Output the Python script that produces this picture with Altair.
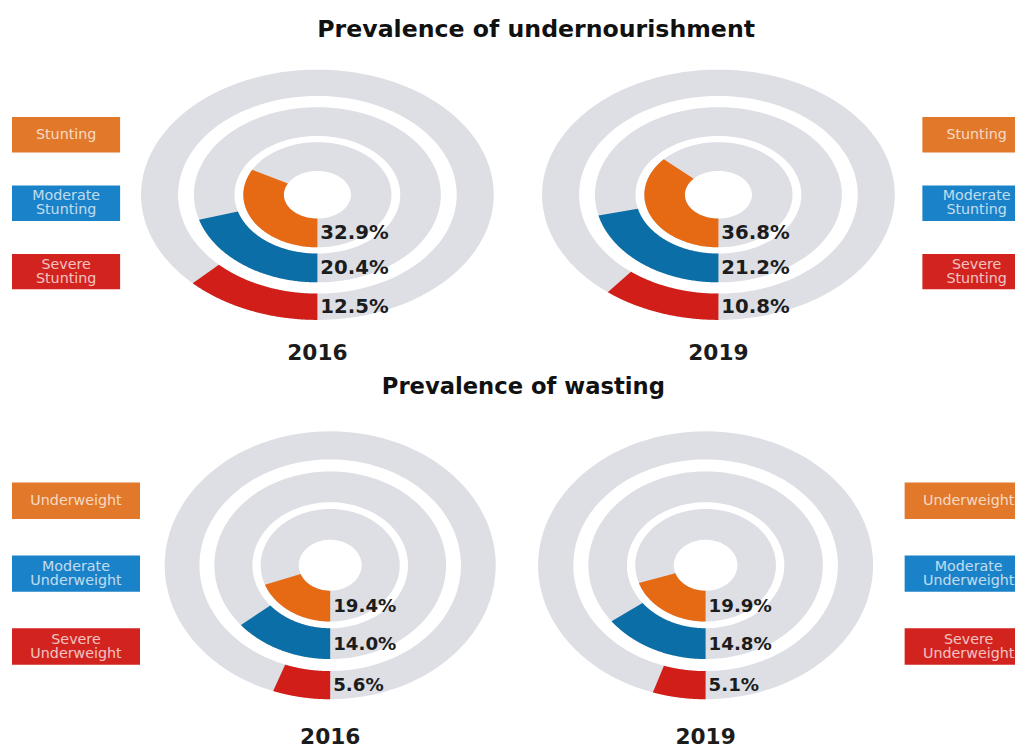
import altair as alt
import pandas as pd

# ---------------- data ----------------
section_titles = ["Prevalence of undernourishment", "Prevalence of wasting"]
years = ["2016", "2019"]
stunting_labels = ["Stunting", "Moderate Stunting", "Severe Stunting"]
wasting_labels = ["Underweight", "Moderate Underweight", "Severe Underweight"]
stunting_2016 = [32.9, 20.4, 12.5]
stunting_2019 = [36.8, 21.2, 10.8]
wasting_2016 = [19.4, 14.0, 5.6]
wasting_2019 = [19.9, 14.8, 5.1]

# ---------------- style ----------------
ARC_COLORS = ["#e66914", "#0b6ea6", "#d21e19"]
BOX_COLORS = ["#e1782a", "#1a82c8", "#d2231e"]
GREY = "#dddfe5"
R_IN = [0.19, 0.47, 0.79]
R_OUT = [0.42, 0.70, 1.0]
N = 120
FONT = "DejaVu Sans"


def ring_shape(chart, value_expr):
    return chart.transform_calculate(
        step=f"sequence(0, {2 * N + 2})"
    ).transform_flatten(["step"]).transform_calculate(
        t=f"datum.step <= {N} ? datum.step / {N} : ({2 * N + 1} - datum.step) / {N}",
        r=f"datum.step <= {N} ? {R_OUT}[datum.ring] : {R_IN}[datum.ring]",
        a=f"datum.t * ({value_expr}) / 100 * 2 * PI",
        px="-datum.r * sin(datum.a)",
        py="-datum.r * cos(datum.a)",
    )


def panel(values, year, w, h, label_size, year_offset):
    df = pd.DataFrame({"ring": [0, 1, 2], "value": values})
    base = alt.Chart(df)
    sx = alt.Scale(domain=[-1, 1], nice=False, zero=False)
    sy = alt.Scale(domain=[-1, 1], nice=False, zero=False)
    grey = ring_shape(base, "100").mark_line(
        filled=True, fill=GREY, strokeWidth=0
    ).encode(
        x=alt.X("px:Q", scale=sx, axis=None),
        y=alt.Y("py:Q", scale=sy, axis=None),
        order="step:Q",
        detail="ring:N",
    )
    col = ring_shape(base, "datum.value").mark_line(
        filled=True, strokeWidth=0
    ).encode(
        x=alt.X("px:Q", scale=sx, axis=None),
        y=alt.Y("py:Q", scale=sy, axis=None),
        order="step:Q",
        detail="ring:N",
        color=alt.Color("ring:N", scale=alt.Scale(domain=[0, 1, 2], range=ARC_COLORS), legend=None),
    )
    txt = base.transform_calculate(
        lx="0",
        ly=f"-({R_IN}[datum.ring] + {R_OUT}[datum.ring]) / 2",
        lab="format(datum.value, '.1f') + '%'",
    ).mark_text(
        align="left", baseline="middle", dx=3, font=FONT, fontWeight="bold",
        fontSize=label_size, color="#1c1c1c",
    ).encode(
        x=alt.X("lx:Q", scale=sx, axis=None),
        y=alt.Y("ly:Q", scale=sy, axis=None),
        text="lab:N",
    )
    return alt.layer(grey, col, txt).properties(
        width=w, height=h,
        title=alt.TitleParams(year, orient="bottom", anchor="middle", offset=year_offset,
                              font=FONT, fontSize=22, fontWeight="bold", color="#1c1c1c"),
    )


def boxes(labels, w, h, x0, x1, y_range, p_inner):
    df = pd.DataFrame({"label": labels, "ring": [0, 1, 2]})
    yb = alt.Y("label:N", sort=labels,
               scale=alt.Scale(range=y_range, paddingInner=p_inner, paddingOuter=0), axis=None)
    rect = alt.Chart(df).mark_rect(clip=True).encode(
        x=alt.value(x0), x2=alt.value(x1), y=yb,
        color=alt.Color("ring:N", scale=alt.Scale(domain=[0, 1, 2], range=BOX_COLORS), legend=None),
    )
    text_style = dict(lineBreak=" ", font=FONT, fontSize=14.5, lineHeight=14.5, color="white",
                      opacity=0.72, align="center", baseline="middle", clip=True)
    one_line = alt.Chart(df).transform_filter("indexof(datum.label, ' ') < 0").mark_text(
        **text_style
    ).encode(x=alt.value((x0 + x1) / 2), y=yb, text="label:N")
    two_lines = alt.Chart(df).transform_filter("indexof(datum.label, ' ') >= 0").mark_text(
        dy=-7, **text_style
    ).encode(x=alt.value((x0 + x1) / 2), y=yb, text="label:N")
    return alt.layer(rect, one_line, two_lines).properties(width=w, height=h)


top = alt.hconcat(
    boxes(stunting_labels, 110, 254, 0, 110, [48, 223], 0.482),
    alt.hconcat(
        panel(stunting_2016, years[0], 358, 254, 20, 24),
        panel(stunting_2019, years[1], 358, 254, 20, 24),
        spacing=49,
    ).resolve_scale(color="independent"),
    boxes(stunting_labels, 101, 254, 7, 117, [48, 223], 0.482),
    spacing=21,
).resolve_scale(color="independent").properties(
    title=alt.TitleParams(section_titles[0], anchor="middle", offset=28, dx=23,
                          font=FONT, fontSize=24, fontWeight="bold", color="#111111"))

bottom = alt.hconcat(
    boxes(wasting_labels, 130, 272, 0, 130, [52, 237], 0.5),
    alt.hconcat(
        panel(wasting_2016, years[0], 336, 272, 18.5, 28),
        panel(wasting_2019, years[1], 340, 272, 18.5, 28),
        spacing=43,
    ).resolve_scale(color="independent"),
    boxes(wasting_labels, 119, 272, 7, 137, [52, 237], 0.5),
    spacing=25,
).resolve_scale(color="independent").properties(
    title=alt.TitleParams(section_titles[1], anchor="middle", offset=33, dx=10,
                          font=FONT, fontSize=23, fontWeight="bold", color="#111111"))

chart = alt.vconcat(top, bottom, spacing=12).resolve_scale(color="independent").properties(
    padding={"left": 4, "top": 5, "right": 0, "bottom": 0},
    background="white",
).configure_view(stroke=None)

chart.save("out.html", embed_options={"renderer": "svg", "actions": False})
